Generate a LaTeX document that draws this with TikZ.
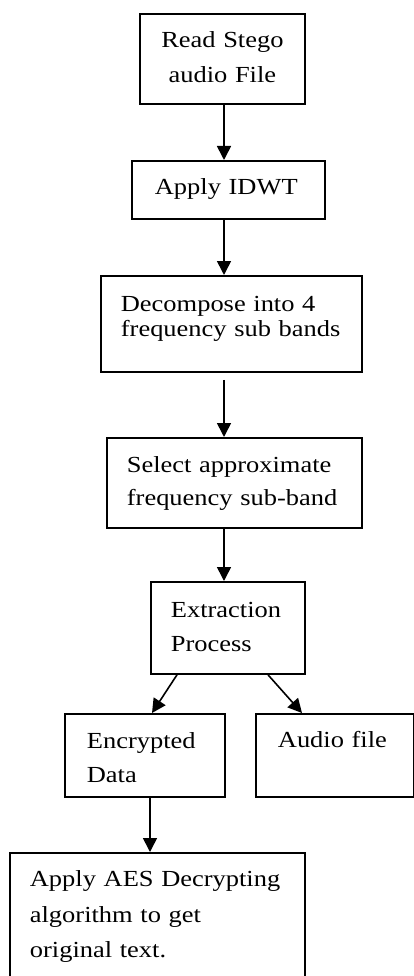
\documentclass[tikz,border=0pt]{standalone}
\usepackage{fontspec}
\setmainfont{Liberation Serif}[FakeStretch=1.15]
\usetikzlibrary{arrows.meta,positioning}

\begin{document}
\begin{tikzpicture}[
  x=1pt, y=-1pt, % one unit per pixel, y running down the page
  stepbox/.style={draw=black, line width=1.8pt, anchor=north west, inner ysep=0pt,
    align=left, font=\fontsize{23}{34}\selectfont},
  arrow/.style={-{Triangle[length=14pt, width=14pt]}, line width=1.6pt, draw=black}
]

\useasboundingbox (0,0) rectangle (414,976);
\clip (0,0) rectangle (414,976);

% --- Main column ---
\node[stepbox, align=center, font=\fontsize{23}{35}\selectfont, inner xsep=10pt,
  text width=145pt, text height=34pt, text depth=56pt] (readFile) at (139,13)
  {Read Stego\\audio File};
\node[stepbox, inner xsep=23pt, text width=147pt, text height=34pt, text depth=24pt]
  (idwt) at (131,160) {Apply~IDWT};
\node[stepbox, font=\fontsize{23}{25}\selectfont, inner xsep=20pt, text width=221pt,
  text height=36pt, text depth=60pt] (decompose) at (100,275)
  {Decompose into 4\\frequency sub bands};
\node[stepbox, font=\fontsize{23}{33}\selectfont, inner xsep=20pt, text width=215pt,
  text height=35pt, text depth=55pt] (selectBand) at (106,437)
  {Select approximate\\frequency sub-band};
\node[stepbox, inner xsep=20pt, text width=114pt, text height=36pt, text depth=56pt]
  (extract) at (150,581) {Extraction\\Process};

% --- Outputs of the extraction ---
\node[stepbox, inner xsep=22pt, text width=116pt, text height=35pt, text depth=48pt]
  (encData) at (64,713) {Encrypted\\Data};
\node[stepbox, inner xsep=22pt, text width=114pt, text height=34pt, text depth=49pt]
  (audioOut) at (255,713) {Audio file};
\node[stepbox, font=\fontsize{23}{35.5}\selectfont, inner xsep=20pt, text width=255pt,
  text height=34pt, text depth=200pt] (decrypt) at (9,852)
  {Apply AES Decrypting\\algorithm to get\\original text.};

% --- Arrows ---
\coordinate (axis) at (224,0);
\coordinate (col) at (150,0);
\coordinate (gap) at ([yshift=-7pt]decompose.south);

\draw[arrow] (readFile.south -| axis) -- (idwt.north -| axis);
\draw[arrow] (idwt.south -| axis) -- (decompose.north -| axis);
\draw[arrow] (gap -| axis) -- (selectBand.north -| axis);
\draw[arrow] (selectBand.south -| axis) -- (extract.north -| axis);
\draw[arrow] ([xshift=27pt]extract.south west) -- ([xshift=88pt]encData.north west);
\draw[arrow] ([xshift=118pt]extract.south west) -- ([xshift=47pt]audioOut.north west);
\draw[arrow] (encData.south -| col) -- (decrypt.north -| col);

\end{tikzpicture}
\end{document}
